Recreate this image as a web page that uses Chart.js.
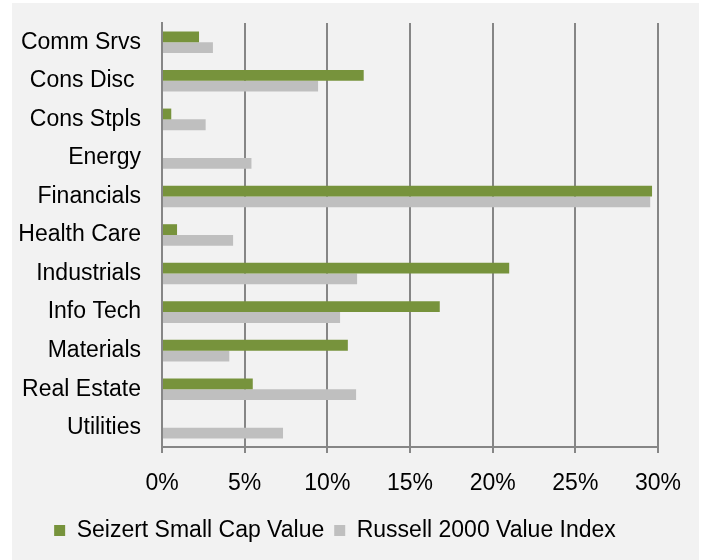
<!DOCTYPE html>
<html lang="en">
<head>
    <meta charset="UTF-8">
    <title>Sector Weights</title>
    <script src="https://cdn.jsdelivr.net/npm/chart.js"></script>
    <style>
        body {
            margin: 0;
            background-color: white;
        }
        .chart-box {
            position: absolute;
            left: 12px;
            top: 3px;
            width: 687px;
            height: 557px;
            background-color: #f2f2f2;
        }
    </style>
</head>
<body>
<div class="chart-box">
    <canvas id="sector-chart"></canvas>
</div>
<script>
    const sectors = ['Comm Srvs', 'Cons Disc ', 'Cons Stpls', 'Energy', 'Financials', 'Health Care',
        'Industrials', 'Info Tech', 'Materials', 'Real Estate', 'Utilities'];
    const seizertValues = [2.24, 12.2, 0.56, 0, 29.64, 0.91, 21.0, 16.8, 11.24, 5.49, 0];
    const russellValues = [3.08, 9.44, 2.64, 5.41, 29.53, 4.3, 11.8, 10.77, 4.07, 11.74, 7.32];
    const xTicks = [0, 5, 10, 15, 20, 25, 30];

    const font = { family: '"Liberation Sans", Arial, sans-serif', size: 23 };
    const gridGray = '#868686';

    const ctx = document.getElementById('sector-chart').getContext('2d');
    new Chart(ctx, {
        type: 'bar',
        data: {
            labels: sectors,
            datasets: [{
                label: 'Seizert Small Cap Value',
                data: seizertValues,
                backgroundColor: '#77933c',
                categoryPercentage: 0.56,
                barPercentage: 1
            }, {
                label: 'Russell 2000 Value Index',
                data: russellValues,
                backgroundColor: '#bfbfbf',
                categoryPercentage: 0.56,
                barPercentage: 1
            }]
        },
        options: {
            indexAxis: 'y',
            responsive: true,
            maintainAspectRatio: false,
            animation: false,
            layout: {
                padding: { left: 0, right: 41, top: 20, bottom: 8 }
            },
            scales: {
                x: {
                    min: xTicks[0],
                    max: xTicks[xTicks.length - 1],
                    afterBuildTicks: function(scale) {
                        scale.ticks = xTicks.map(v => ({ value: v }));
                    },
                    afterFit: function(scale) {
                        scale.height = 62;
                    },
                    ticks: {
                        font: font,
                        color: '#000',
                        padding: 17,
                        callback: v => v + '%'
                    },
                    grid: {
                        color: gridGray,
                        lineWidth: 2,
                        tickLength: 6
                    },
                    border: { color: gridGray, width: 2 }
                },
                y: {
                    afterFit: function(scale) {
                        scale.width = 150;
                        // labels sit mid-category, no extra room needed above/below
                        scale.paddingTop = 0;
                        scale.paddingBottom = 0;
                    },
                    ticks: {
                        font: font,
                        color: '#000',
                        padding: 13
                    },
                    grid: { display: false },
                    border: { display: true, color: gridGray, width: 2 }
                }
            },
            plugins: {
                legend: {
                    position: 'bottom',
                    labels: {
                        font: font,
                        color: '#000',
                        boxWidth: 11,
                        boxHeight: 11,
                        padding: 10
                    }
                },
                tooltip: { enabled: false }
            }
        }
    });
</script>
</body>
</html>
